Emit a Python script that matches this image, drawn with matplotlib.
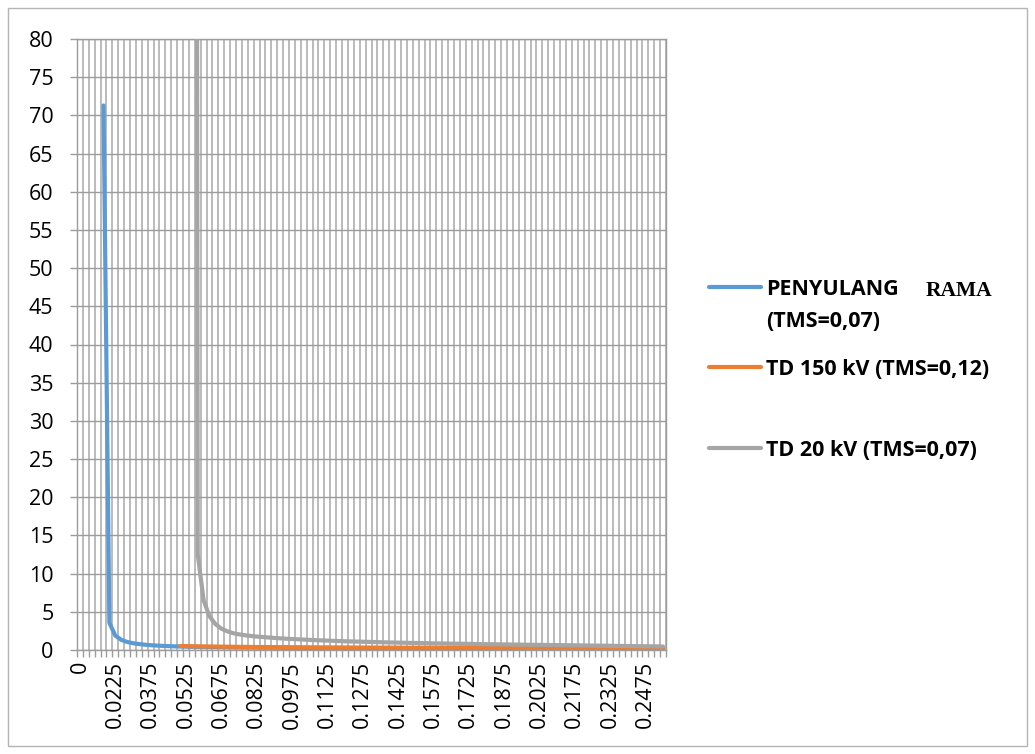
import numpy as np
import matplotlib
matplotlib.use("Agg")
import matplotlib.pyplot as plt
import matplotlib.transforms as mtransforms
from matplotlib.lines import Line2D
from matplotlib.patches import Rectangle

categories = [
    0, 0.01, 0.0125, 0.015, 0.0175, 0.02, 0.0225, 0.025, 0.0275, 0.03,
    0.0325, 0.035, 0.0375, 0.04, 0.0425, 0.045, 0.0475, 0.05, 0.0525, 0.055,
    0.0575, 0.06, 0.0625, 0.065, 0.0675, 0.07, 0.0725, 0.075, 0.0775, 0.08,
    0.0825, 0.085, 0.0875, 0.09, 0.0925, 0.095, 0.0975, 0.1, 0.1025, 0.105,
    0.1075, 0.11, 0.1125, 0.115, 0.1175, 0.12, 0.1225, 0.125, 0.1275, 0.13,
    0.1325, 0.135, 0.1375, 0.14, 0.1425, 0.145, 0.1475, 0.15, 0.1525, 0.155,
    0.1575, 0.16, 0.1625, 0.165, 0.1675, 0.17, 0.1725, 0.175, 0.1775, 0.18,
    0.1825, 0.185, 0.1875, 0.19, 0.1925, 0.195, 0.1975, 0.2, 0.2025, 0.205,
    0.2075, 0.21, 0.2125, 0.215, 0.2175, 0.22, 0.2225, 0.225, 0.2275, 0.23,
    0.2325, 0.235, 0.2375, 0.24, 0.2425, 0.245, 0.2475, 0.25, 0.2525, 0.255,
]

penyulang = [None] * 4 + [
    71.3, 3.56, 1.89, 1.34, 1.06, 0.89, 0.78, 0.70, 0.63, 0.58,
    0.54, 0.51, 0.48, 0.46, 0.44, 0.42, 0.41, 0.39, 0.38, 0.37,
    0.36, 0.35, 0.34, 0.33, 0.32, 0.32, 0.31, 0.30, 0.30, 0.29,
    0.29, 0.28, 0.28, 0.28, 0.27, 0.27, 0.26, 0.26, 0.26, 0.25,
    0.25, 0.25, 0.25, 0.24, 0.24, 0.24, 0.24,
    0.23, 0.23, 0.23, 0.23, 0.23, 0.22, 0.22, 0.22, 0.22,
    0.22, 0.21, 0.21, 0.21, 0.21, 0.21, 0.21, 0.21, 0.20, 0.20,
    0.20, 0.20, 0.20, 0.20, 0.20, 0.20, 0.19, 0.19, 0.19, 0.19,
    0.19, 0.19, 0.19, 0.19, 0.19, 0.19, 0.19, 0.19, 0.18, 0.18,
    0.18, 0.18, 0.18, 0.18, 0.18, 0.18, 0.18, 0.18, 0.18, 0.18,
]

td150 = [None] * 17 + [
    0.52, 0.51, 0.49, 0.48, 0.47, 0.46, 0.45, 0.44, 0.43, 0.42,
    0.41, 0.41, 0.40, 0.39, 0.39, 0.38, 0.38, 0.37, 0.37, 0.36,
    0.36, 0.35, 0.35, 0.35, 0.34, 0.34, 0.34, 0.33, 0.33, 0.33,
    0.32, 0.32, 0.32, 0.32,
    0.31, 0.31, 0.31, 0.31, 0.30, 0.30, 0.30, 0.30, 0.30, 0.30,
    0.29, 0.29, 0.29, 0.29, 0.29, 0.29, 0.29, 0.28, 0.28, 0.28,
    0.28, 0.28, 0.28, 0.28, 0.28, 0.27, 0.27, 0.27, 0.27, 0.27,
    0.27, 0.27, 0.27, 0.26, 0.26, 0.26, 0.26, 0.26, 0.26, 0.26,
    0.26, 0.26, 0.26, 0.25, 0.25, 0.25, 0.25, 0.25, 0.25,
]

td20 = [None] * 19 + [
    600, 12.5, 6.5, 4.4, 3.4, 2.8, 2.45, 2.2, 2.05, 1.93,
    1.84, 1.76, 1.70, 1.64, 1.58, 1.53, 1.48, 1.44, 1.40, 1.36,
    1.32, 1.29, 1.26, 1.23, 1.20, 1.17, 1.14, 1.12, 1.10, 1.08,
    1.06, 1.04, 1.02, 1.00, 0.98, 0.97, 0.95, 0.93, 0.92, 0.90,
    0.89, 0.87, 0.86, 0.85, 0.83, 0.82, 0.81, 0.80, 0.78, 0.77,
    0.76, 0.75, 0.74, 0.73, 0.72, 0.71, 0.70, 0.69, 0.68, 0.67,
    0.66, 0.65, 0.64, 0.63, 0.62, 0.61, 0.60, 0.59, 0.58, 0.57,
    0.56, 0.55, 0.54, 0.53, 0.52, 0.51, 0.50, 0.49, 0.48, 0.47,
    0.46,
]

series_labels = ["PENYULANG", "TD 150 kV (TMS=0,12)", "TD 20 kV (TMS=0,07)"]
y_ticks = list(range(0, 81, 5))
label_every = 6

def arr(v):
    return np.array([np.nan if a is None else a for a in v], dtype=float)

W, H = 1035, 754
fig = plt.figure(figsize=(W / 100, H / 100), dpi=100)
FONT = ["Open Sans", "DejaVu Sans"]
plt.rcParams["font.family"] = FONT

def fx(px):
    return px / W

def fy(py):
    return 1 - py / H

# chart border
fig.add_artist(Rectangle((fx(8), fy(746)), fx(1027) - fx(8), fy(8) - fy(746),
                         transform=fig.transFigure, fill=False,
                         edgecolor="#b4b4b4", linewidth=1.0))

ax = fig.add_axes([fx(77), fy(650), fx(666) - fx(77), fy(39) - fy(650)])
n = len(categories)
x = np.arange(n)

grid_c = "#9c9c9c"
ax.set_xlim(-0.5, n - 0.5)
ax.set_ylim(0, 80)
ax.set_yticks(y_ticks)
ax.set_yticklabels([str(v) for v in y_ticks], fontsize=15.5)
ax.yaxis.grid(True, color=grid_c, linewidth=1.0)
ax.tick_params(axis="y", length=5, width=1.0, color=grid_c, pad=12)

ax.set_xticks(x[::label_every])
ax.set_xticklabels([f"{c:g}" for c in categories[::label_every]],
                   rotation=90, fontsize=15.5, va="top", ha="center")
shift = mtransforms.ScaledTranslation(4 / 100, 0, fig.dpi_scale_trans)
for lbl in ax.get_xticklabels():
    lbl.set_transform(lbl.get_transform() + shift)
ax.set_xticks(np.arange(n + 1) - 0.5, minor=True)
ax.tick_params(axis="x", which="major", length=0, pad=8)
ax.tick_params(axis="x", which="minor", length=5, width=1.0, color=grid_c)
ax.xaxis.grid(True, which="minor", color="#a8a8a8", linewidth=1.1)
ax.set_axisbelow(True)
for s in ax.spines.values():
    s.set_color(grid_c)
    s.set_linewidth(1.0)

colors = ["#5B9BD5", "#ED7D31", "#A5A5A5"]
for vals, c in zip([penyulang, td150, td20], colors):
    ax.plot(x, arr(vals), color=c, linewidth=3.0,
            solid_joinstyle="round", solid_capstyle="round", zorder=3)

# legend (manual)
leg_y = [287, 367, 448]
for yy, c in zip(leg_y, colors):
    fig.add_artist(Line2D([fx(709), fx(761)], [fy(yy), fy(yy)],
                          transform=fig.transFigure, color=c, linewidth=3.0,
                          solid_capstyle="round"))
tkw = dict(fontsize=15.5, fontweight="bold", ha="left", va="baseline",
           transform=fig.transFigure)
fig.text(fx(766), fy(295), series_labels[0], **tkw)
fig.text(fx(926), fy(296), "RAMA", fontsize=15.5, fontweight="bold",
         family=["Liberation Serif", "DejaVu Serif"], ha="left",
         va="baseline", transform=fig.transFigure)
fig.text(fx(766), fy(327), "(TMS=0,07)", **tkw)
fig.text(fx(766), fy(375), series_labels[1], **tkw)
fig.text(fx(766), fy(456), series_labels[2], **tkw)

fig.savefig("out.png", dpi=100)
